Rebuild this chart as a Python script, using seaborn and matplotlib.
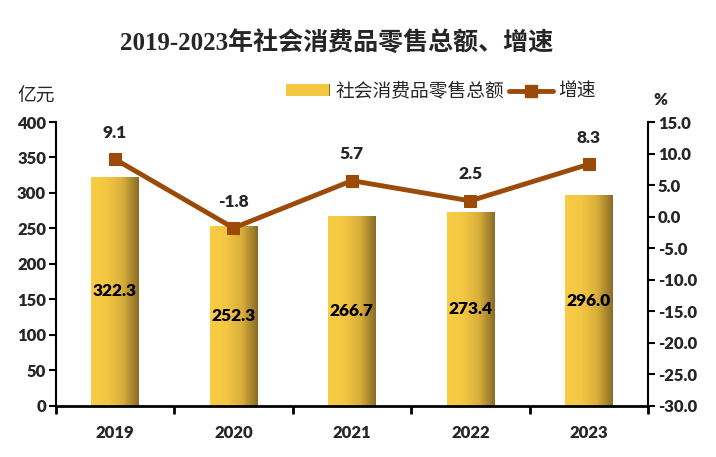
import numpy as np
import pandas as pd
import matplotlib
matplotlib.use("Agg")
import matplotlib.pyplot as plt
import seaborn as sns
from matplotlib.colors import LinearSegmentedColormap
from matplotlib.lines import Line2D
from matplotlib.patches import Patch

# data
years = ["2019", "2020", "2021", "2022", "2023"]
sales = [322.3, 252.3, 266.7, 273.4, 296.0]
growth = [9.1, -1.8, 5.7, 2.5, 8.3]

sales_label = "社会消费品零售总额"
growth_label = "增速"
title = "2019-2023年社会消费品零售总额、增速"

sns.set_theme(style="white")
plt.rcParams["font.family"] = ["Lato", "Noto Sans CJK SC", "DejaVu Sans"]
cjk = ["Liberation Serif", "Noto Sans CJK SC", "DejaVu Sans"]
wt = "heavy"

line_color = "#9B4A08"
gold = LinearSegmentedColormap.from_list(
    "gold", ["#FACC44", "#F4C743", "#D9AE3A", "#8A6B26"], N=256)
grad = np.linspace(0, 1, 256).reshape(1, -1)

df = pd.DataFrame({"year": years, "sales": sales})

fig = plt.figure(figsize=(7.16, 4.57), dpi=100)
ax = fig.add_axes([0.078, 0.112, 0.827, 0.621])

sns.barplot(data=df, x="year", y="sales", ax=ax, width=0.4, color="#F4C743")

# replace flat bars with a left-to-right gradient
for p in ax.patches:
    x0, w, h = p.get_x(), p.get_width(), p.get_height()
    ax.imshow(grad, cmap=gold, aspect="auto", extent=[x0, x0 + w, 0, h],
              zorder=2, interpolation="bicubic")
    p.set_visible(False)
    ax.text(x0 + w / 2, h / 2, f"{h:.1f}", ha="center", va="center",
            fontsize=12.5, fontweight=wt, color="black", zorder=3)

ax.set_xlim(-0.5, len(years) - 0.5)
ax.set_ylim(0, 400)
ax.set_yticks(np.arange(0, 401, 50))
ax.set_xlabel("")
ax.set_ylabel("")

ax.set_xticks(np.arange(-0.5, len(years), 1))
ax.set_xticklabels([])
ax.set_xticks(np.arange(len(years)), minor=True)
ax.set_xticklabels(years, minor=True)
ax.tick_params(axis="x", which="major", length=6, width=2, direction="out",
               color="black", bottom=True)
ax.tick_params(axis="x", which="minor", length=0, pad=14, labelsize=12)
ax.tick_params(axis="y", length=5, width=1.5, direction="out", color="black",
               left=True, labelsize=12, pad=2)
for lab in ax.get_xticklabels(minor=True) + ax.get_yticklabels():
    lab.set_fontweight(wt)

for side in ["top", "right"]:
    ax.spines[side].set_visible(False)
ax.spines["left"].set_color("black")
ax.spines["left"].set_linewidth(1.5)
ax.spines["bottom"].set_color("black")
ax.spines["bottom"].set_linewidth(2)

ax2 = ax.twinx()
sns.lineplot(x=np.arange(len(years)), y=growth, ax=ax2, color=line_color,
             linewidth=3.5, marker="s", markersize=8.5, markeredgecolor=line_color,
             zorder=4)
ax2.set_ylim(-30, 15)
ax2.set_yticks(np.arange(-30, 16, 5))
ax2.set_yticklabels([f"{v:.1f}" for v in np.arange(-30, 16, 5)])
ax2.tick_params(axis="y", length=5, width=1.5, direction="out", color="black",
                right=True, labelsize=12, pad=2)
for lab in ax2.get_yticklabels():
    lab.set_fontweight(wt)
for side in ["top", "left", "bottom"]:
    ax2.spines[side].set_visible(False)
ax2.spines["right"].set_color("black")
ax2.spines["right"].set_linewidth(1.5)

for i, g in enumerate(growth):
    ax2.annotate(f"{g:.1f}", (i, g), xytext=(0, 19), textcoords="offset points",
                 ha="center", va="center", fontsize=12.5, fontweight=wt)

fig.text(0.47, 0.906, title, ha="center", va="center", fontsize=18,
         fontweight="bold", family=cjk)
fig.text(0.05, 0.788, "亿元", ha="center", va="center", fontsize=13.5,
         family=cjk)
fig.text(0.923, 0.781, "%", ha="center", va="center", fontsize=12,
         fontweight=wt)

handles = [Patch(facecolor="#F4C743", edgecolor="none"),
           Line2D([], [], color=line_color, linewidth=3.5, marker="s",
                  markersize=8.5)]
leg = fig.legend(handles, [sales_label, growth_label], loc="center",
                 bbox_to_anchor=(0.616, 0.799), ncol=2, frameon=False,
                 prop={"family": cjk, "size": 13.5}, handlelength=2.3,
                 handleheight=0.6, handletextpad=0.3, columnspacing=0.3)

# gradient swatch over the legend patch
fig.canvas.draw()
bb = leg.get_patches()[0].get_window_extent().transformed(fig.transFigure.inverted())
sw = fig.add_axes([bb.x0, bb.y0, bb.width, bb.height])
sw.imshow(grad, cmap=gold, aspect="auto", interpolation="bicubic")
sw.axis("off")

fig.savefig("out.png", dpi=100)
